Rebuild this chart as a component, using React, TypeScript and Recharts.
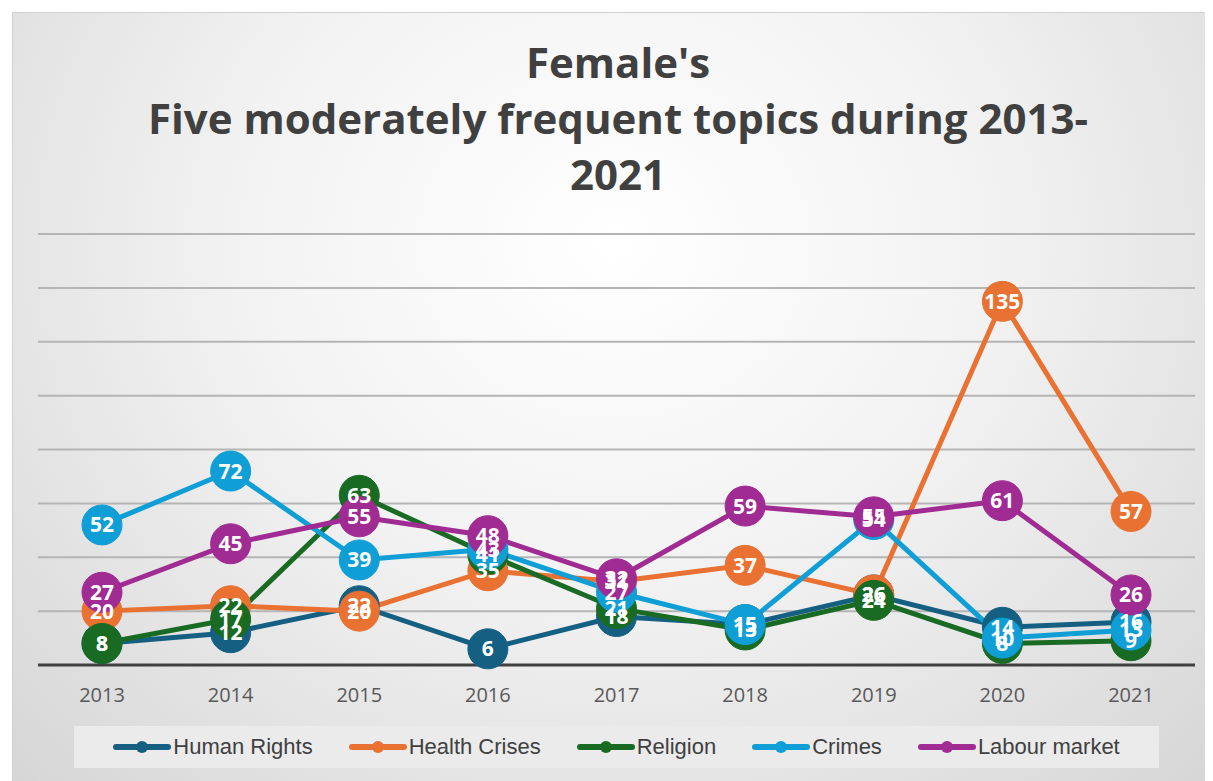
import React from 'react';
import { LineChart, Line, XAxis, YAxis, CartesianGrid, Legend, LabelList } from 'recharts';

const years = ['2013', '2014', '2015', '2016', '2017', '2018', '2019', '2020', '2021'];
const humanRights = [8, 12, 22, 6, 18, 15, 26, 14, 16];
const healthCrises = [20, 22, 20, 35, 31, 37, 26, 135, 57];
const religion = [8, 17, 63, 41, 21, 13, 24, 8, 9];
const crimes = [52, 72, 39, 43, 27, 15, 54, 10, 13];
const labourMarket = [27, 45, 55, 48, 32, 59, 55, 61, 26];
const yTicks = [0, 20, 40, 60, 80, 100, 120, 140, 160];

const series = [
  { key: 'hr', name: 'Human Rights', values: humanRights, color: '#156082' },
  { key: 'hc', name: 'Health Crises', values: healthCrises, color: '#E97132' },
  { key: 'rel', name: 'Religion', values: religion, color: '#196B24' },
  { key: 'cr', name: 'Crimes', values: crimes, color: '#0F9ED5' },
  { key: 'lm', name: 'Labour market', values: labourMarket, color: '#A02B93' },
];

const data = years.map((year, i) => {
  const row: Record<string, string | number> = { year };
  series.forEach((s) => {
    row[s.key] = s.values[i];
  });
  return row;
});

const LegendBox = () => (
  <div
    style={{
      margin: '0 auto',
      width: 1085,
      height: 42,
      background: '#ebebeb',
      display: 'flex',
      alignItems: 'center',
      justifyContent: 'center',
      gap: 36,
      fontFamily: '"Liberation Sans Narrow", "Arial Narrow", "Liberation Sans", sans-serif',
      fontSize: 22,
      color: '#404040',
    }}
  >
    {series.map((s) => (
      <div key={s.key} style={{ display: 'flex', alignItems: 'center' }}>
        <svg width={58} height={14} style={{ marginRight: 2 }}>
          <line x1={3} y1={7} x2={55} y2={7} stroke={s.color} strokeWidth={6} strokeLinecap="round" />
          <circle cx={29} cy={7} r={6} fill={s.color} />
        </svg>
        <span>{s.name}</span>
      </div>
    ))}
  </div>
);

export default function App() {
  return (
    <div
      style={{
        marginLeft: 4,
        marginTop: 4,
        width: 1200,
        height: 768,
        border: '1px solid #d0d0d0',
        background: 'radial-gradient(ellipse at 50% 30%, #ffffff 0%, #f2f2f2 45%, #d6d6d6 100%)',
        fontFamily: '"Open Sans", sans-serif',
        position: 'relative',
        overflow: 'hidden',
      }}
    >
      <div
        style={{
          textAlign: 'center',
          fontWeight: 700,
          fontSize: 42,
          lineHeight: '56px',
          color: '#404040',
          paddingTop: 21,
          height: 186,
          boxSizing: 'border-box',
          paddingLeft: 100,
          paddingRight: 90,
          whiteSpace: 'nowrap',
        }}
      >
        Female's
        <br />
        Five moderately frequent topics during 2013-
        <br />
        2021
      </div>
      <LineChart
        width={1192}
        height={562}
        data={data}
        margin={{ top: 21, right: 10, left: 25, bottom: 7 }}
        style={{ position: 'absolute', left: 0, top: 200 }}
      >
        <CartesianGrid vertical={false} stroke="#b5b5b5" strokeWidth={2} />
        <XAxis
          dataKey="year"
          padding={{ left: 64, right: 64 }}
          tickLine={false}
          tickSize={0}
          tickMargin={23}
          height={61}
          axisLine={{ stroke: '#404040', strokeWidth: 3 }}
          tick={{ fill: '#595959', fontSize: 20, fontFamily: '"Open Sans", sans-serif' }}
        />
        <YAxis hide domain={[0, 160]} ticks={yTicks} />
        <Legend verticalAlign="bottom" height={42} content={() => <LegendBox />} />
        {series.map((s) => (
          <Line
            key={s.key}
            dataKey={s.key}
            name={s.name}
            stroke={s.color}
            strokeWidth={5}
            isAnimationActive={false}
            dot={{ r: 20, fill: s.color, stroke: s.color, strokeWidth: 1 }}
            activeDot={false}
          >
            <LabelList
              dataKey={s.key}
              position="center"
              fill="#ffffff"
              fontSize={21}
              fontWeight={700}
              fontFamily='"Open Sans", sans-serif'
            />
          </Line>
        ))}
      </LineChart>
    </div>
  );
}
